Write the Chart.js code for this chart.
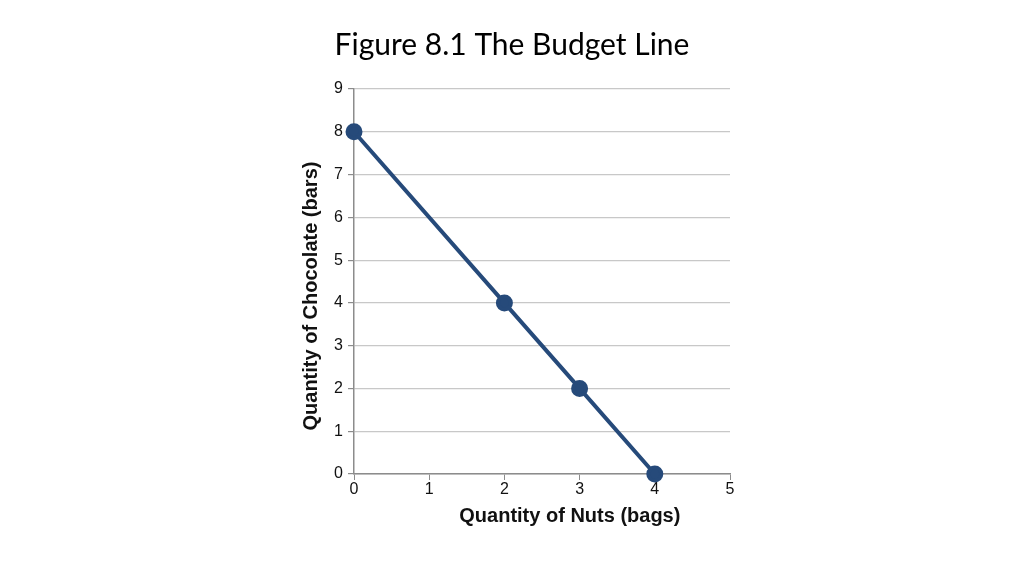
<!DOCTYPE html>
<html>
<head>
<meta charset="utf-8">
<script src="https://cdn.jsdelivr.net/npm/chart.js@4"></script>
<style>
  html, body { margin: 0; padding: 0; background: #fff; }
  #wrap { position: relative; width: 1024px; height: 576px; }
</style>
</head>
<body>
<div id="wrap"><canvas id="budgetChart" width="1024" height="576"></canvas></div>
<script>
// budget line data
var nutsBags = [0, 2, 3, 4];
var chocolateBars = [8, 4, 2, 0];
var xTicks = [0, 1, 2, 3, 4, 5];
var yTicks = [0, 1, 2, 3, 4, 5, 6, 7, 8, 9];

var chartTitle = "Figure 8.1 The Budget Line";
var xTitle = "Quantity of Nuts (bags)";
var yTitle = "Quantity of Chocolate (bars)";

var points = nutsBags.map(function (x, i) {
  return { x: x, y: chocolateBars[i] };
});

var titleFont = "bold 20px 'Liberation Sans', Arial, sans-serif";

// axis titles sit a little off centre in the original, so draw them here
var axisTitles = {
  id: "axisTitles",
  afterDraw: function (chart) {
    var ctx = chart.ctx;
    var xs = chart.scales.x;
    var ys = chart.scales.y;
    ctx.save();
    ctx.font = titleFont;
    ctx.fillStyle = "#111";
    ctx.textAlign = "center";
    ctx.textBaseline = "middle";
    ctx.fillText(xTitle, xs.getPixelForValue(2.87), 516);
    ctx.translate(ys.left + 11, ys.getPixelForValue(4.16));
    ctx.rotate(-Math.PI / 2);
    ctx.fillText(yTitle, 0, 0);
    ctx.restore();
  }
};

var ctx = document.getElementById("budgetChart").getContext("2d");
var myChart = new Chart(ctx, {
  type: "scatter",
  data: {
    datasets: [
      {
        data: points,
        showLine: true,
        borderColor: "#264a7a",
        backgroundColor: "#264a7a",
        borderWidth: 4,
        pointRadius: 6.5,
        pointHoverRadius: 6.5,
        clip: false,
      },
    ],
  },
  options: {
    responsive: false,
    animation: false,
    layout: {
      padding: { top: 89, left: 300, right: 294, bottom: 0 },
    },
    plugins: {
      legend: { display: false },
      tooltip: { enabled: false },
      title: { display: false },
    },
    scales: {
      x: {
        type: "linear",
        min: 0,
        max: 5,
        afterBuildTicks: function (scale) {
          scale.ticks = xTicks.map(function (v) { return { value: v }; });
        },
        afterFit: function (scale) { scale.height = 102; },
        grid: {
          drawOnChartArea: false,
          drawTicks: true,
          tickLength: 6,
          color: "#8c8c8c",
          lineWidth: 1,
        },
        border: { color: "#8c8c8c", width: 1.5 },
        ticks: {
          padding: 0,
          color: "#111",
          font: { family: "'Liberation Sans', Arial, sans-serif", size: 16 },
        },
      },
      y: {
        type: "linear",
        min: 0,
        max: 9,
        afterBuildTicks: function (scale) {
          scale.ticks = yTicks.map(function (v) { return { value: v }; });
        },
        afterFit: function (scale) { scale.width = 54; },
        grid: {
          color: "#c8c8c8",
          lineWidth: 1.2,
          tickLength: 6,
          tickColor: "#8c8c8c",
        },
        border: { color: "#8c8c8c", width: 1.5 },
        ticks: {
          padding: 5,
          color: "#111",
          font: { family: "'Liberation Sans', Arial, sans-serif", size: 16 },
        },
      },
    },
  },
  plugins: [
    {
      id: "pageTitle",
      afterDraw: function (chart) {
        var c = chart.ctx;
        c.save();
        c.font = "30px Lato, 'Open Sans', sans-serif";
        c.fillStyle = "#000";
        c.textAlign = "center";
        c.textBaseline = "middle";
        c.fillText(chartTitle, 512, 45);
        c.restore();
      },
    },
    axisTitles,
  ],
});
</script>
</body>
</html>
